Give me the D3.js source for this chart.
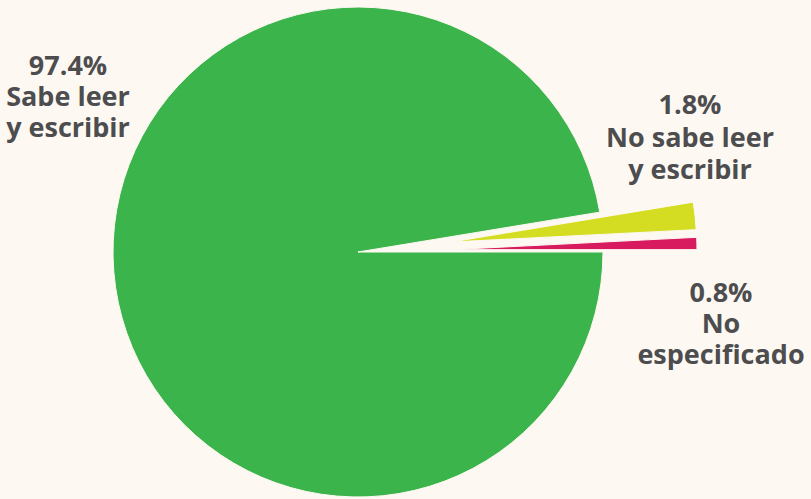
<!DOCTYPE html>
<html><head><meta charset="utf-8">
<script src="https://cdn.jsdelivr.net/npm/d3@7"></script>
<style>html,body{margin:0;padding:0;background:#fdf9f2;}svg{display:block;}</style>
</head><body>
<svg id="c" width="811" height="499"></svg>
<script>
const categories = ["Sabe leer y escribir", "No sabe leer y escribir", "No especificado"];
const values = [97.4, 1.8, 0.8];
const percentLabels = ["97.4%", "1.8%", "0.8%"];
const labelLines = [["Sabe leer", "y escribir"], ["No sabe leer", "y escribir"], ["No", "especificado"]];
const colors = ["#3bb54b", "#d5dd22", "#d81b5f"];
const explode = [0, 94, 94];

const bg = "#fdf9f2";
const svg = d3.select("#c");
svg.append("rect").attr("width", 811).attr("height", 499).attr("fill", bg);

const cx = 358, cy = 252, r = 245;
const pie = d3.pie().sort(null).value(d => d).startAngle(Math.PI / 2).endAngle(Math.PI / 2 + 2 * Math.PI);
const arcs = pie(values);
const arc = d3.arc().innerRadius(0).outerRadius(r);

const g = svg.append("g").attr("transform", `translate(${cx},${cy})`);
g.selectAll("path").data(arcs).join("path")
  .attr("d", arc)
  .attr("fill", (d, i) => colors[i])
  .attr("stroke", bg).attr("stroke-width", 1)
  .attr("transform", (d, i) => {
    const a = (d.startAngle + d.endAngle) / 2;
    return `translate(${Math.sin(a) * explode[i]},${-Math.cos(a) * explode[i]})`;
  });

const labelPos = [
  { x: 68, y: [75, 106, 137] },
  { x: 690, y: [114, 147, 179] },
  { x: 721, y: [302, 333, 364] }
];
const lg = svg.append("g").attr("font-family", "'Open Sans', sans-serif").attr("font-weight", 700)
  .attr("font-size", 27).attr("fill", "#4d4d4f").attr("text-anchor", "middle");
categories.forEach((c, i) => {
  const lines = [percentLabels[i]].concat(labelLines[i]);
  lines.forEach((l, j) => {
    lg.append("text").attr("x", labelPos[i].x).attr("y", labelPos[i].y[j]).text(l);
  });
});
</script>
</body></html>
